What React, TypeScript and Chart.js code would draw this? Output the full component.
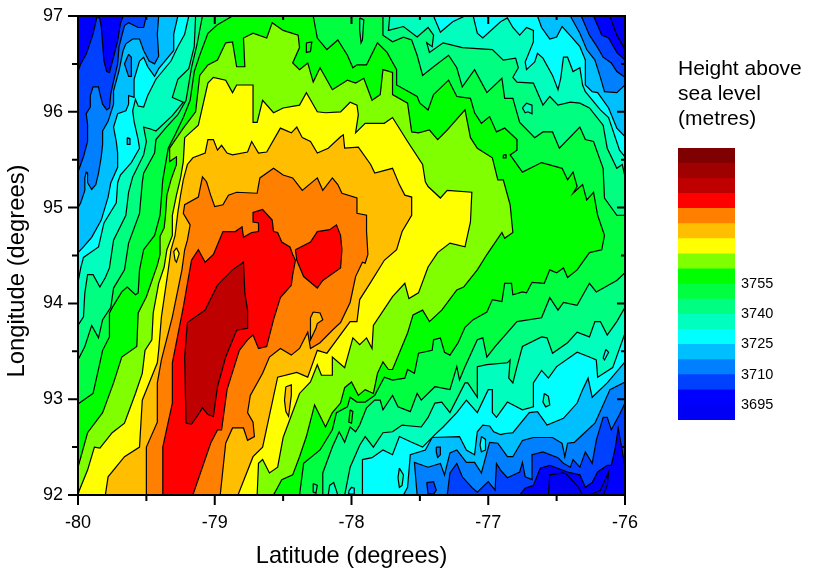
import React, { useEffect, useRef } from "react";
import { Chart, registerables } from "chart.js";

Chart.register(...registerables);

type Pt = [number, number];

// Contour regions, [latitude, longitude]. Each region is "height at or above its level".
const plotCorners: Pt[] = [[-80,92],[-80,97],[-76,97],[-76,92]];

const above3702: Pt[] = [[-79.86,97],[-79.89,96.81],[-79.94,96.6],[-79.98,96.5],[-80,96.42],[-80,92],[-76.77,92],[-76.73,92.07],[-76.67,92.1],[-76.62,92.28],[-76.55,92.31],[-76.42,92.24],[-76.33,92.21],[-76.29,92.08],[-76.24,92.13],[-76.2,92.24],[-76.13,92.31],[-76.1,92.31],[-76.07,92.5],[-76.05,92.7],[-76.03,92.54],[-76,92.29],[-76,96.54],[-76.06,96.62],[-76.12,96.77],[-76.17,96.8],[-76.23,97],[-79.67,97],[-79.69,96.92],[-79.71,96.74],[-79.74,96.57],[-79.77,96.41],[-79.79,96.42],[-79.81,96.53],[-79.82,96.71],[-79.83,96.89],[-79.84,96.97]];

const above3710: Pt[] = [[-79.5,97],[-79.52,96.88],[-79.56,96.88],[-79.63,96.93],[-79.66,96.9],[-79.7,96.68],[-79.71,96.5],[-79.74,96.32],[-79.76,96.19],[-79.77,96.04],[-79.79,96.02],[-79.82,96.08],[-79.84,96.19],[-79.85,96.26],[-79.89,96.26],[-79.91,96.17],[-79.91,96.05],[-79.94,95.98],[-79.93,95.87],[-79.93,95.69],[-79.96,95.53],[-80,95.37],[-80,92],[-77.3,92],[-77.28,92.23],[-77.23,92.33],[-77.19,92.19],[-77.12,92.08],[-77.08,92.03],[-77,92.14],[-76.95,92.05],[-76.94,92.33],[-76.91,92.26],[-76.86,92.18],[-76.77,92.24],[-76.75,92.34],[-76.73,92.19],[-76.68,92.16],[-76.68,92.42],[-76.6,92.45],[-76.49,92.39],[-76.45,92.33],[-76.4,92.29],[-76.38,92.37],[-76.33,92.29],[-76.29,92.45],[-76.24,92.33],[-76.21,92.57],[-76.16,92.81],[-76.13,92.81],[-76.1,92.68],[-76.04,92.84],[-76,92.96],[-76,96.36],[-76.06,96.42],[-76.1,96.51],[-76.16,96.57],[-76.2,96.67],[-76.26,96.8],[-76.32,97]];

const above3717: Pt[] = [[-79.41,97],[-79.42,96.81],[-79.41,96.58],[-79.44,96.5],[-79.48,96.53],[-79.52,96.64],[-79.55,96.76],[-79.6,96.76],[-79.65,96.71],[-79.67,96.64],[-79.7,96.43],[-79.74,96.22],[-79.74,96.08],[-79.78,95.9],[-79.82,95.8],[-79.82,95.66],[-79.83,95.53],[-79.85,95.36],[-79.87,95.24],[-79.9,95.19],[-79.93,95.26],[-79.93,95.36],[-79.94,95.37],[-79.95,95.31],[-79.95,95.18],[-79.98,95.05],[-80,95],[-80,92],[-77.52,92],[-77.54,92.34],[-77.44,92.29],[-77.35,92.33],[-77.32,92.21],[-77.28,92.44],[-77.23,92.47],[-77.16,92.34],[-77.1,92.34],[-77.05,92.23],[-76.99,92.55],[-76.93,92.54],[-76.86,92.4],[-76.82,92.4],[-76.75,92.57],[-76.67,92.6],[-76.53,92.6],[-76.46,92.54],[-76.44,92.4],[-76.42,92.54],[-76.37,92.55],[-76.22,92.75],[-76.16,92.94],[-76.11,93.1],[-76,93.18],[-76,96.28],[-76.06,96.2],[-76.15,96.21],[-76.18,96.36],[-76.22,96.54],[-76.28,96.65],[-76.33,96.82],[-76.4,97]];

const above3725: Pt[] = [[-79.27,97],[-79.3,96.81],[-79.3,96.64],[-79.34,96.57],[-79.41,96.45],[-79.44,96.37],[-79.49,96.47],[-79.52,96.57],[-79.55,96.53],[-79.59,96.34],[-79.59,96.15],[-79.63,96.17],[-79.63,96.08],[-79.65,96.01],[-79.71,95.98],[-79.74,95.84],[-79.72,95.69],[-79.71,95.57],[-79.71,95.42],[-79.76,95.26],[-79.78,95.11],[-79.83,94.87],[-79.9,94.69],[-79.96,94.59],[-80,94.53],[-80,92],[-77.62,92],[-77.59,92.08],[-77.57,92.42],[-77.46,92.47],[-77.41,92.6],[-77.21,92.61],[-77.16,92.47],[-77.1,92.42],[-77.08,92.66],[-77.04,92.73],[-76.99,92.72],[-76.96,92.66],[-76.91,92.63],[-76.88,92.64],[-76.82,92.65],[-76.7,92.86],[-76.64,92.87],[-76.57,92.73],[-76.45,92.8],[-76.35,92.96],[-76.31,93.1],[-76.27,93.22],[-76.24,93.02],[-76.13,93.17],[-76,93.39],[-76,95.74],[-76.06,95.83],[-76.12,96.04],[-76.2,96.2],[-76.24,96.21],[-76.29,96.28],[-76.29,96.54],[-76.33,96.68],[-76.39,96.78],[-76.46,96.89],[-76.5,96.78],[-76.55,96.76],[-76.61,96.88],[-76.64,97]];

const above3732: Pt[] = [[-79.19,97],[-79.22,96.81],[-79.27,96.68],[-79.32,96.53],[-79.43,96.34],[-79.49,96.17],[-79.52,96.05],[-79.56,96.06],[-79.58,96.13],[-79.6,96.01],[-79.59,95.9],[-79.56,95.71],[-79.55,95.62],[-79.61,95.47],[-79.69,95.34],[-79.71,95.26],[-79.72,95.05],[-79.81,94.84],[-79.85,94.59],[-79.96,94.48],[-79.98,94.37],[-80,94.22],[-80,92],[-77.92,92],[-77.92,92.37],[-77.85,92.39],[-77.77,92.47],[-77.7,92.42],[-77.65,92.61],[-77.56,92.55],[-77.48,92.5],[-77.39,92.63],[-77.33,92.71],[-77.23,92.86],[-77.16,92.99],[-77.08,92.86],[-77,93.1],[-76.97,93.1],[-76.97,92.86],[-76.94,92.81],[-76.86,92.97],[-76.75,92.89],[-76.67,92.92],[-76.67,93.17],[-76.61,93.3],[-76.56,93.22],[-76.5,93.34],[-76.35,93.49],[-76.26,93.44],[-76.21,93.41],[-76.2,93.23],[-76.09,93.33],[-76,93.69],[-76,95.53],[-76.04,95.6],[-76.12,95.94],[-76.18,96.02],[-76.29,96.21],[-76.31,96.28],[-76.33,96.46],[-76.38,96.42],[-76.42,96.57],[-76.45,96.57],[-76.47,96.35],[-76.49,96.23],[-76.53,96.38],[-76.6,96.56],[-76.64,96.61],[-76.66,96.52],[-76.72,96.44],[-76.73,96.52],[-76.67,96.73],[-76.67,96.85],[-76.72,96.88],[-76.77,96.8],[-76.82,96.88],[-76.86,96.98],[-76.91,96.94],[-77.04,96.77],[-77.08,96.82],[-77.11,97],[-77.17,97],[-77.26,96.94],[-77.35,96.83],[-77.4,97]];

const above3740: Pt[] = [[-79.14,97],[-79.15,96.68],[-79.19,96.45],[-79.27,96.34],[-79.31,96.15],[-79.23,96.1],[-79.31,95.96],[-79.43,95.8],[-79.47,95.82],[-79.52,95.84],[-79.5,95.69],[-79.52,95.55],[-79.6,95.32],[-79.63,95.16],[-79.65,94.92],[-79.74,94.66],[-79.77,94.37],[-79.8,94.27],[-79.84,94.17],[-79.89,94.3],[-79.93,94.3],[-79.95,94.11],[-79.96,93.86],[-80,93.77],[-80,92],[-78.05,92],[-78.01,92.29],[-77.94,92.52],[-77.9,92.61],[-77.84,92.5],[-77.77,92.65],[-77.7,92.66],[-77.63,92.73],[-77.49,92.71],[-77.44,92.81],[-77.39,92.96],[-77.34,92.97],[-77.28,92.86],[-77.17,93.17],[-77.15,93.17],[-77.08,93.02],[-77.08,93.34],[-77.01,93.36],[-76.86,93.38],[-76.84,93.41],[-76.85,93.22],[-76.82,93.17],[-76.79,93.34],[-76.75,93.55],[-76.61,93.65],[-76.57,93.64],[-76.53,93.48],[-76.42,93.59],[-76.35,93.7],[-76.26,93.65],[-76.22,93.81],[-76.18,93.81],[-76.13,93.67],[-76.06,93.81],[-76,93.96],[-76,95.32],[-76.02,95.45],[-76.06,95.41],[-76.13,95.62],[-76.16,95.86],[-76.26,96.04],[-76.33,96.09],[-76.4,96.1],[-76.49,96.07],[-76.55,96.16],[-76.6,96.07],[-76.67,96.3],[-76.79,96.31],[-76.82,96.36],[-76.78,96.46],[-76.8,96.56],[-76.89,96.54],[-76.97,96.65],[-77.19,96.67],[-77.33,96.72],[-77.43,96.62],[-77.45,96.72],[-77.41,96.68],[-77.4,96.8],[-77.44,96.88],[-77.52,96.78],[-77.62,96.89],[-77.73,96.85],[-77.72,97]];

const above3747: Pt[] = [[-79.09,97],[-79.13,96.7],[-79.17,96.46],[-79.21,96.12],[-79.27,95.97],[-79.36,95.83],[-79.43,95.71],[-79.44,95.57],[-79.52,95.36],[-79.53,95.26],[-79.55,94.94],[-79.63,94.63],[-79.66,94.35],[-79.74,94.16],[-79.76,93.96],[-79.82,93.83],[-79.85,93.64],[-79.9,93.77],[-79.95,93.55],[-80,93.41],[-80,92],[-78.21,92],[-78.21,92.23],[-78.14,92.5],[-78.09,92.66],[-78.05,92.55],[-78.01,92.71],[-77.97,92.66],[-77.94,92.73],[-77.89,92.91],[-77.83,92.99],[-77.79,92.99],[-77.77,92.89],[-77.7,93.04],[-77.66,92.92],[-77.57,92.87],[-77.52,93.06],[-77.49,92.99],[-77.39,93.13],[-77.28,93.1],[-77.23,93.34],[-77.21,93.2],[-77.17,93.34],[-77.08,93.62],[-77.04,93.64],[-77.01,93.44],[-76.95,93.55],[-76.79,93.81],[-76.61,93.85],[-76.55,94.06],[-76.49,93.93],[-76.45,94.01],[-76.35,93.98],[-76.26,94.21],[-76.21,94.12],[-76.06,94.24],[-76,94.32],[-76,94.92],[-76.06,94.92],[-76.15,95.1],[-76.16,95.41],[-76.23,95.69],[-76.29,95.71],[-76.33,95.84],[-76.48,95.62],[-76.53,95.79],[-76.6,95.79],[-76.66,95.73],[-76.77,95.89],[-76.82,96.14],[-76.88,96.14],[-76.9,96.35],[-77.01,96.2],[-77.1,96.44],[-77.19,96.26],[-77.23,96.46],[-77.29,96.59],[-77.4,96.47],[-77.48,96.38],[-77.52,96.59],[-77.56,96.75],[-77.62,96.78],[-77.7,96.73],[-77.77,96.8],[-77.77,97]];

const above3755: Pt[] = [[-78.87,97],[-78.98,96.91],[-79.05,96.82],[-79.11,96.59],[-79.15,96.42],[-79.18,96.12],[-79.23,95.94],[-79.29,95.76],[-79.34,95.62],[-79.38,95.29],[-79.4,94.92],[-79.44,94.71],[-79.52,94.56],[-79.55,94.35],[-79.56,94.11],[-79.58,94.09],[-79.64,94.17],[-79.68,94.12],[-79.74,93.98],[-79.77,93.9],[-79.77,93.65],[-79.82,93.51],[-79.84,93.38],[-79.89,93.06],[-79.93,93.02],[-80,92.95],[-80,92],[-78.38,92],[-78.35,92.33],[-78.23,92.47],[-78.14,92.68],[-78.11,92.86],[-78.03,92.92],[-78.01,93.02],[-77.96,92.97],[-77.9,92.97],[-77.83,93.04],[-77.76,93.23],[-77.7,93.2],[-77.61,93.22],[-77.59,93.31],[-77.54,93.27],[-77.51,93.48],[-77.41,93.51],[-77.4,93.62],[-77.35,93.64],[-77.32,93.49],[-77.28,93.46],[-77.22,93.59],[-77.17,93.75],[-77.11,93.83],[-77.01,93.91],[-76.97,94.04],[-76.9,94.02],[-76.88,94.21],[-76.83,94.21],[-76.82,94.09],[-76.75,94.12],[-76.72,94.11],[-76.68,94.22],[-76.59,94.21],[-76.55,94.35],[-76.5,94.32],[-76.45,94.37],[-76.42,94.27],[-76.35,94.35],[-76.26,94.53],[-76.17,94.56],[-76.15,94.71],[-76.2,94.92],[-76.23,95.16],[-76.28,95.08],[-76.31,95.24],[-76.38,95.15],[-76.35,95.22],[-76.38,95.37],[-76.42,95.29],[-76.46,95.41],[-76.61,95.47],[-76.75,95.37],[-76.84,95.55],[-76.79,95.6],[-76.79,95.71],[-76.88,95.83],[-76.94,95.79],[-76.99,95.95],[-77.05,95.88],[-77.1,95.99],[-77.13,96.14],[-77.23,96.16],[-77.29,96.33],[-77.4,96.18],[-77.44,96.02],[-77.5,96.09],[-77.52,96.16],[-77.67,96.28],[-77.67,96.44],[-77.74,96.62],[-77.81,96.72],[-77.89,96.49],[-77.96,96.49],[-77.99,96.46],[-78.03,96.59],[-78.1,96.75],[-78.18,96.65],[-78.25,96.77],[-78.28,97]];

const above3762: Pt[] = [[-79.33,95.62],[-79.23,95.83],[-79.14,96],[-79.11,96.38],[-79.05,96.49],[-78.98,96.54],[-78.92,96.72],[-78.87,96.73],[-78.84,96.47],[-78.78,96.47],[-78.79,96.77],[-78.72,96.82],[-78.62,96.77],[-78.58,96.93],[-78.5,96.85],[-78.39,96.8],[-78.38,96.67],[-78.43,96.51],[-78.38,96.44],[-78.32,96.51],[-78.28,96.31],[-78.23,96.46],[-78.14,96.23],[-78.03,96.33],[-77.97,96.3],[-77.91,96.35],[-77.85,96.12],[-77.79,96.18],[-77.77,96.44],[-77.7,96.41],[-77.7,96.18],[-77.59,96.09],[-77.56,95.79],[-77.51,95.78],[-77.43,95.81],[-77.37,95.71],[-77.3,95.81],[-77.17,96.02],[-77.13,95.73],[-77.08,95.62],[-76.97,95.52],[-76.93,95.29],[-76.89,95.29],[-76.84,95.03],[-76.82,94.74],[-76.88,94.68],[-76.9,94.74],[-77.01,94.51],[-77.08,94.35],[-77.18,94.17],[-77.23,94.14],[-77.34,93.93],[-77.43,93.81],[-77.48,93.93],[-77.55,93.88],[-77.59,93.69],[-77.7,93.31],[-77.73,93.31],[-77.77,93.39],[-77.81,93.27],[-77.84,93.06],[-77.9,93.1],[-77.95,93.04],[-78,93.18],[-78.05,93.12],[-78.08,92.96],[-78.14,92.86],[-78.19,92.71],[-78.27,92.94],[-78.33,92.61],[-78.38,92.4],[-78.43,92.21],[-78.51,92.16],[-78.57,92],[-80,92],[-80,92.29],[-79.93,92.65],[-79.82,92.86],[-79.74,93.17],[-79.68,93.44],[-79.57,93.55],[-79.56,93.9],[-79.5,94.07],[-79.42,94.4],[-79.4,94.51],[-79.4,94.7],[-79.37,94.79],[-79.36,94.92],[-79.35,95.13],[-79.32,95.29],[-79.28,95.45],[-79.28,95.53],[-79.33,95.48]];

const above3770: Pt[] = [[-80,92],[-79.99,92.05],[-79.93,92.26],[-79.88,92.5],[-79.84,92.49],[-79.75,92.65],[-79.66,92.75],[-79.58,93.06],[-79.53,93.27],[-79.51,93.51],[-79.46,93.62],[-79.45,93.9],[-79.41,94.21],[-79.37,94.38],[-79.35,94.56],[-79.31,94.71],[-79.31,94.92],[-79.28,95.13],[-79.25,95.31],[-79.23,95.48],[-79.22,95.73],[-79.12,95.86],[-79.09,96.05],[-79.05,96.3],[-79.01,96.36],[-78.92,96.33],[-78.87,96.2],[-78.84,96.28],[-78.72,96.28],[-78.72,95.89],[-78.69,95.89],[-78.65,96.12],[-78.57,95.99],[-78.5,96.04],[-78.38,96.07],[-78.33,96.2],[-78.25,96],[-78.19,95.99],[-78.08,96],[-78.01,96.1],[-77.96,96.07],[-77.95,95.97],[-77.97,95.78],[-77.9,95.88],[-77.76,95.88],[-77.7,95.94],[-77.59,95.69],[-77.48,95.45],[-77.46,95.27],[-77.44,95.22],[-77.35,95.1],[-77.3,95.18],[-77.12,95.16],[-77.13,94.85],[-77.17,94.59],[-77.28,94.63],[-77.37,94.53],[-77.44,94.38],[-77.51,94.11],[-77.58,94.05],[-77.61,94.21],[-77.7,94.07],[-77.84,93.77],[-77.85,93.53],[-77.89,93.64],[-77.94,93.57],[-77.99,93.64],[-78.05,93.33],[-78.14,93.44],[-78.14,93.25],[-78.22,93.25],[-78.25,93.36],[-78.3,93.18],[-78.38,93.06],[-78.5,92.6],[-78.54,92.29],[-78.6,92.23],[-78.65,92.37],[-78.68,92.33],[-78.69,92]];

const above3777: Pt[] = [[-79.8,92],[-79.78,92.19],[-79.66,92.4],[-79.55,92.5],[-79.53,92.99],[-79.42,93.38],[-79.41,93.51],[-79.39,93.86],[-79.34,94.35],[-79.32,94.56],[-79.29,94.71],[-79.27,94.95],[-79.25,95.13],[-79.23,95.29],[-79.2,95.45],[-79.16,95.52],[-79.07,95.57],[-79.05,95.71],[-79.01,95.71],[-78.98,95.6],[-78.95,95.65],[-78.91,95.57],[-78.87,95.55],[-78.76,95.58],[-78.73,95.69],[-78.68,95.57],[-78.62,95.58],[-78.52,95.83],[-78.44,95.78],[-78.4,95.84],[-78.36,95.73],[-78.3,95.69],[-78.25,95.57],[-78.17,95.62],[-78.08,95.74],[-78.06,95.76],[-78.05,95.62],[-77.95,95.63],[-77.86,95.45],[-77.83,95.36],[-77.7,95.41],[-77.65,95.24],[-77.61,95.13],[-77.56,95.11],[-77.56,94.92],[-77.63,94.75],[-77.67,94.56],[-77.76,94.45],[-77.86,94.22],[-77.94,94.04],[-77.96,93.81],[-78.01,93.81],[-78.18,93.48],[-78.25,93.51],[-78.32,93.23],[-78.4,93.28],[-78.54,93.23],[-78.65,92.5],[-78.72,92.4],[-78.83,92]];

const above3785: Pt[] = [[-79.5,92],[-79.5,92.5],[-79.42,92.76],[-79.42,93.17],[-79.39,93.41],[-79.31,93.86],[-79.24,94.35],[-79.22,94.56],[-79.2,94.66],[-79.18,94.82],[-79.23,94.94],[-79.22,95.03],[-79.12,95.11],[-79.09,95.32],[-79.06,95.27],[-79.03,95.13],[-79,95.01],[-78.94,95.03],[-78.9,95.13],[-78.84,95.16],[-78.69,95.15],[-78.67,95.31],[-78.57,95.41],[-78.5,95.34],[-78.43,95.31],[-78.36,95.18],[-78.25,95.31],[-78.21,95.18],[-78.14,95.31],[-78.1,95.24],[-78.07,95.15],[-77.96,95.1],[-77.96,94.94],[-77.89,94.92],[-77.89,94.75],[-77.88,94.51],[-77.9,94.42],[-77.92,94.43],[-77.97,94.28],[-78.01,94.01],[-78.08,93.8],[-78.14,93.72],[-78.23,93.59],[-78.3,93.53],[-78.32,93.7],[-78.38,93.53],[-78.44,93.46],[-78.52,93.53],[-78.6,93.44],[-78.65,93.27],[-78.74,93.04],[-78.76,92.86],[-78.72,92.76],[-78.71,92.61],[-78.76,92.57],[-78.79,92.7],[-78.87,92.7],[-78.92,92.54],[-78.96,92]];

const above3792: Pt[] = [[-79.38,92],[-79.38,92.5],[-79.31,92.96],[-79.31,93.38],[-79.23,93.96],[-79.17,94.45],[-79.12,94.56],[-79.07,94.43],[-79.01,94.51],[-78.94,94.75],[-78.85,94.75],[-78.8,94.8],[-78.79,94.69],[-78.73,94.74],[-78.68,94.75],[-78.68,94.84],[-78.72,94.85],[-78.72,94.95],[-78.65,94.98],[-78.58,94.87],[-78.57,94.75],[-78.54,94.74],[-78.51,94.64],[-78.45,94.59],[-78.43,94.51],[-78.41,94.45],[-78.43,94.3],[-78.44,94.19],[-78.52,94.06],[-78.57,93.83],[-78.62,93.55],[-78.68,93.53],[-78.72,93.67],[-78.76,93.62],[-78.82,93.51],[-78.91,93.1],[-78.95,92.68],[-78.98,92.68],[-79.03,92.54],[-79.16,92]];
const above3792East: Pt[] = [[-78.41,94.56],[-78.3,94.64],[-78.25,94.75],[-78.16,94.77],[-78.11,94.82],[-78.08,94.71],[-78.07,94.56],[-78.08,94.37],[-78.21,94.24],[-78.25,94.16],[-78.35,94.28],[-78.4,94.45]];

const above3800: Pt[] = [[-79.21,92.75],[-79.17,92.74],[-79.12,92.84],[-79.09,92.91],[-79.05,92.84],[-79.01,92.82],[-78.98,93.13],[-78.92,93.44],[-78.84,93.72],[-78.76,93.74],[-78.76,93.93],[-78.78,94.11],[-78.79,94.43],[-78.87,94.35],[-78.98,94.19],[-79.07,93.93],[-79.2,93.8],[-79.22,93.44]];

// Lowest-band pockets and small closed contours
const below3695NE: Pt[] = [[-76.11,97],[-76.06,96.8],[-76,96.65],[-76,97]];
const below3695S1: Pt[] = [[-76.56,92],[-76.55,92.21],[-76.45,92.23],[-76.43,92.22],[-76.34,92.08],[-76.31,92]];
const below3695S2: Pt[] = [[-76.26,92],[-76.18,92.05],[-76.12,92.24],[-76.13,92.1],[-76.16,92]];
const isleA: Pt[] = [[-77.05,92.61],[-77.02,92.58],[-77.02,92.47],[-77.05,92.45],[-77.06,92.52]];
const isleB: Pt[] = [[-77.38,92.5],[-77.35,92.5],[-77.35,92.42],[-77.37,92.39],[-77.38,92.45]];
const isleC: Pt[] = [[-77.45,92.13],[-77.4,92.14],[-77.38,92.05],[-77.4,92.01],[-77.44,92.01]];
const isleD: Pt[] = [[-77.65,92.28],[-77.62,92.21],[-77.63,92.1],[-77.65,92.08],[-77.66,92.18]];
const isleE: Pt[] = [[-76.59,93.06],[-76.56,93.03],[-76.55,92.94],[-76.58,92.92],[-76.6,92.97]];
const isleF: Pt[] = [[-76.14,93.52],[-76.12,93.49],[-76.15,93.41],[-76.16,93.43]];
const isleG: Pt[] = [[-79.63,96.6],[-79.61,96.57],[-79.61,96.37],[-79.63,96.37],[-79.66,96.5]];
const isleH: Pt[] = [[-76.75,96.04],[-76.72,96.09],[-76.68,96.07],[-76.68,95.98],[-76.71,96],[-76.73,95.99]];
const isleI: Pt[] = [[-77.94,96.98],[-77.91,96.96],[-77.92,96.75],[-77.93,96.72],[-77.94,96.85]];
const isleJ: Pt[] = [[-78.33,96.72],[-78.29,96.73],[-78.3,96.63],[-78.33,96.62]];
const isleK: Pt[] = [[-76.89,95.55],[-76.87,95.55],[-76.87,95.52],[-76.89,95.52]];
const isleL: Pt[] = [[-78.48,93.13],[-78.44,93.15],[-78.44,93.04],[-78.46,92.82],[-78.48,92.87],[-78.49,92.99]];
const isleM: Pt[] = [[-79.28,94.58],[-79.26,94.52],[-79.28,94.43],[-79.29,94.45],[-79.3,94.54]];
const isleN: Pt[] = [[-78.28,93.91],[-78.23,93.9],[-78.21,93.83],[-78.25,93.79],[-78.26,93.74],[-78.3,93.62],[-78.3,93.74],[-78.3,93.85]];
const isleO: Pt[] = [[-78.01,92.89],[-77.99,92.87],[-78,92.75],[-78.02,92.76]];
const isleP: Pt[] = [[-78.28,92.12],[-78.25,92.1],[-78.26,92.02],[-78.28,92.03]];
const isleQ: Pt[] = [[-78.17,92],[-78.16,92.1],[-78.13,92.13],[-78.1,92]];
const isleR: Pt[] = [[-78.02,92.04],[-78,92.08],[-77.98,92.07],[-77.98,92.01],[-78.02,92.01]];
const isleS: Pt[] = [[-79.64,95.73],[-79.62,95.72],[-79.62,95.66],[-79.64,95.66]];

// Colour key
const bandStarts = [3687.5,3695,3702.5,3710,3717.5,3725,3732.5,3740,3747.5,3755,3762.5,3770,3777.5,3785,3792.5,3800,3807.5,3815];
const bandColors = ["#0000f4","#0000ff","#0040ff","#0080ff","#00bfff","#00ffff","#00ffbf","#00ff80","#00ff40","#00ff00","#80ff00","#ffff00","#ffbf00","#ff8000","#ff0000","#bf0000","#9f0000","#7f0000"];
const bandStep = 7.5;
const keyTicks = [3695,3710,3725,3740,3755];
const keyLines = ["Height above","sea level","(metres)"];
const xTicks = [-80,-79.5,-79,-78.5,-78,-77.5,-77,-76.5,-76];
const yTicks = [92,92.5,93,93.5,94,94.5,95,95.5,96,96.5,97];

const c = (i: number) => bandColors[i];
// Painted in this order, lowest first
const layers: [Pt[], string][] = [
  [plotCorners, c(1)], [above3702, c(2)], [above3710, c(3)], [above3717, c(4)], [above3725, c(5)],
  [above3732, c(6)], [above3740, c(7)], [above3747, c(8)], [above3755, c(9)], [above3762, c(10)],
  [above3770, c(11)], [above3777, c(12)], [above3785, c(13)], [above3792, c(14)], [above3792East, c(14)],
  [above3800, c(15)], [below3695NE, c(0)], [below3695S1, c(0)], [below3695S2, c(0)],
  [isleA, c(5)], [isleB, c(3)], [isleC, c(2)], [isleD, c(6)], [isleE, c(6)], [isleF, c(5)], [isleG, c(3)],
  [isleH, c(6)], [isleI, c(7)], [isleJ, c(9)], [isleK, c(8)], [isleL, c(12)], [isleM, c(11)], [isleN, c(12)],
  [isleO, c(9)], [isleP, c(7)], [isleQ, c(6)], [isleR, c(5)], [isleS, c(4)],
];

const FONT = "'Liberation Sans', Arial, sans-serif";

const frameTicks = {
  id: "frameTicks",
  afterDatasetsDraw(chart: any) {
    const { ctx, chartArea: a, scales } = chart;
    ctx.save();
    ctx.strokeStyle = "#000";
    ctx.lineWidth = 2;
    ctx.beginPath();
    ctx.rect(a.left, a.top, a.right - a.left, a.bottom - a.top);
    for (const v of xTicks) {
      const p = scales.x.getPixelForValue(v);
      const major = Number.isInteger(v);
      ctx.moveTo(p, a.bottom);
      ctx.lineTo(p, a.bottom + (major ? 10 : 6));
      ctx.moveTo(p, a.top);
      ctx.lineTo(p, a.top + (major ? 8 : 4));
    }
    for (const v of yTicks) {
      const p = scales.y.getPixelForValue(v);
      const major = Number.isInteger(v);
      ctx.moveTo(a.left, p);
      ctx.lineTo(a.left - (major ? 10 : 6), p);
      ctx.moveTo(a.right, p);
      ctx.lineTo(a.right - (major ? 8 : 4), p);
    }
    ctx.stroke();
    // Longitude title sits below the middle of the axis in the original
    ctx.fillStyle = "#000";
    ctx.font = `23.8px ${FONT}`;
    ctx.textAlign = "center";
    ctx.textBaseline = "alphabetic";
    ctx.translate(24, 271);
    ctx.rotate(-Math.PI / 2);
    ctx.fillText("Longitude (degrees)", 0, 0);
    ctx.restore();
  },
};

export default function App() {
  const mapRef = useRef<HTMLCanvasElement>(null);
  const keyRef = useRef<HTMLCanvasElement>(null);

  useEffect(() => {
    const tickFont = { family: FONT, size: 18 };
    const titleFont = { family: FONT, size: 23.6 };
    const map = new Chart(mapRef.current!, {
      type: "scatter",
      plugins: [frameTicks],
      data: {
        datasets: [...layers].reverse().map(([pts, color]) => ({
          data: [...pts, pts[0]].map(([x, y]) => ({ x, y })),
          showLine: true,
          fill: "shape",
          tension: 0,
          backgroundColor: color,
          borderColor: "#000",
          borderWidth: 1.2,
          pointRadius: 0,
          pointHoverRadius: 0,
        })),
      },
      options: {
        responsive: false,
        animation: false,
        events: [],
        layout: { padding: { top: 16, right: 205, left: 0, bottom: 0 } },
        plugins: { legend: { display: false }, tooltip: { enabled: false } },
        scales: {
          x: {
            type: "linear", min: -80, max: -76,
            afterBuildTicks: (s: any) => { s.ticks = xTicks.map((value) => ({ value })); },
            afterFit: (s: any) => { s.height = 77; },
            grid: { drawOnChartArea: false, tickLength: 10, tickColor: "transparent" },
            border: { display: false },
            ticks: { autoSkip: false, maxRotation: 0, padding: 7, color: "#000", font: tickFont,
              callback: (v: any) => (Number.isInteger(v) ? String(v) : "") },
            title: { display: true, text: "Latitude (degrees)", color: "#000", font: titleFont, padding: { top: 0, bottom: 1 } },
          },
          y: {
            type: "linear", min: 92, max: 97,
            afterBuildTicks: (s: any) => { s.ticks = yTicks.map((value) => ({ value })); },
            afterFit: (s: any) => { s.width = 78; },
            grid: { drawOnChartArea: false, tickLength: 10, tickColor: "transparent" },
            border: { display: false },
            ticks: { autoSkip: false, padding: 5, color: "#000", font: tickFont,
              callback: (v: any) => (Number.isInteger(v) ? String(v) : "") },
          },
        },
      },
    } as any);

    const key = new Chart(keyRef.current!, {
      type: "bar",
      data: {
        labels: ["key"],
        datasets: bandStarts.map((lo, i) => ({
          data: [[lo, lo + bandStep]],
          backgroundColor: bandColors[i],
          borderWidth: 0,
          barPercentage: 1,
          categoryPercentage: 1,
          grouped: false,
        })),
      },
      options: {
        responsive: false,
        animation: false,
        events: [],
        plugins: {
          legend: { display: false },
          tooltip: { enabled: false },
          title: {
            display: true, text: keyLines, align: "start", color: "#000",
            font: { family: FONT, size: 21, lineHeight: 25 / 21, weight: "normal" },
            padding: { top: 2, bottom: 16 },
          },
        },
        scales: {
          x: { display: false, stacked: false },
          y: {
            type: "linear", position: "right", min: 3687.5, max: 3822.5,
            afterBuildTicks: (s: any) => { s.ticks = keyTicks.map((value) => ({ value })); },
            afterFit: (s: any) => { s.width = 95; s.paddingBottom = 0; s.paddingTop = 0; },
            grid: { display: false, drawTicks: false },
            border: { display: false },
            ticks: { padding: 6, color: "#000", font: { family: FONT, size: 14.5 }, callback: (v: any) => String(v) },
          },
        },
      },
    } as any);

    return () => { map.destroy(); key.destroy(); };
  }, []);

  return (
    <>
      <canvas ref={mapRef} width={830} height={572} style={{ position: "absolute", left: 0, top: 0 }} />
      <canvas ref={keyRef} width={152} height={365} style={{ position: "absolute", left: 678, top: 55 }} />
    </>
  );
}
